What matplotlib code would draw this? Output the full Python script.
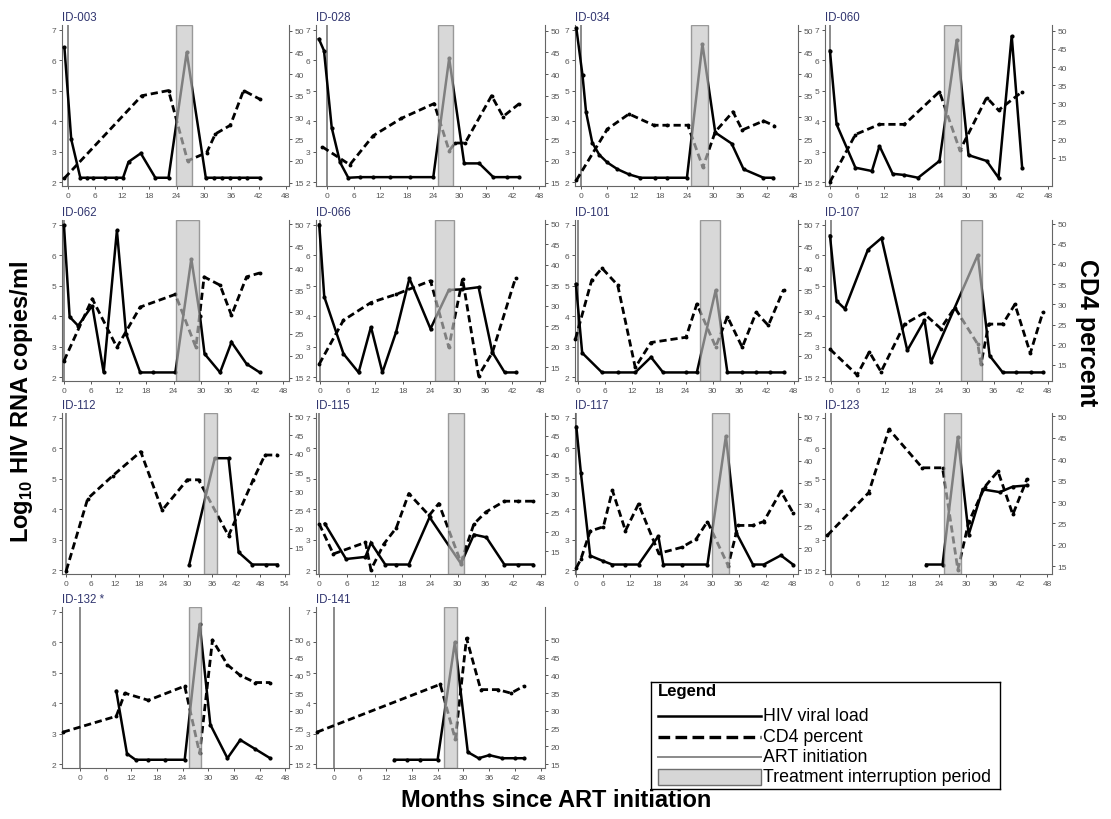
import matplotlib
matplotlib.use("Agg")
import matplotlib.pyplot as plt
from matplotlib.patches import Rectangle

plt.rcParams["font.family"] = ["Liberation Sans", "DejaVu Sans"]

# ---------------- patient series (months since ART, log10 VL, CD4 %) ----------------
id003_vl_t = [-0.7, 0.8, 2.8, 4.2, 5.6, 8.3, 10.7, 12.2, 13.4, 16.1, 19.3, 22.2, 26.2, 30.4, 32.1, 33.9, 35.8, 37.6, 39.4, 42.3]
id003_vl = [6.42, 3.41, 2.15, 2.15, 2.15, 2.15, 2.15, 2.15, 2.67, 2.95, 2.15, 2.15, 6.26, 2.15, 2.15, 2.15, 2.15, 2.15, 2.15, 2.15]
id003_cd4_t = [-0.7, 16.3, 22.2, 26.4, 30.6, 32.5, 35.8, 38.7, 42.3]
id003_cd4 = [16.0, 35.0, 36.2, 20.0, 21.9, 26.2, 28.2, 36.2, 34.2]
id003_ti = (23.9, 27.3)

id028_vl_t = [-1.9, -0.75, 1.0, 2.9, 4.75, 7.4, 10.4, 14.2, 18.7, 24.0, 27.6, 31.0, 34.4, 37.6, 40.6, 43.5]
id028_vl = [6.69, 6.31, 3.79, 2.65, 2.15, 2.17, 2.17, 2.17, 2.17, 2.17, 6.06, 2.62, 2.62, 2.17, 2.17, 2.17]
id028_cd4_t = [-1.1, 5.1, 10.4, 16.8, 24.2, 27.6, 28.9, 31.2, 37.2, 39.8, 43.5]
id028_cd4 = [23.2, 19.1, 25.8, 29.8, 33.2, 22.3, 24.1, 24.1, 35.0, 30.2, 33.2]
id028_ti = (25.1, 28.5)

id034_vl_t = [-1.0, 0.4, 1.2, 2.6, 4.2, 6.0, 8.3, 10.9, 13.5, 16.7, 19.5, 24.0, 27.5, 30.4, 34.1, 36.8, 41.3, 43.5]
id034_vl = [7.05, 5.5, 4.3, 3.3, 2.9, 2.65, 2.43, 2.26, 2.15, 2.15, 2.15, 2.15, 6.53, 3.63, 3.27, 2.43, 2.15, 2.15]
id034_cd4_t = [-1.0, 6.0, 10.9, 16.5, 19.5, 24.2, 27.6, 30.4, 34.4, 36.5, 41.3, 43.7]
id034_cd4 = [15.5, 27.3, 30.8, 28.2, 28.2, 28.2, 18.5, 26.7, 31.3, 27.1, 29.2, 28.1]
id034_ti = (25.0, 28.7)

id060_vl_t = [0, 1.46, 5.6, 9.24, 10.9, 13.8, 16.4, 19.4, 24.1, 27.9, 30.5, 34.5, 37.1, 40.0, 42.3]
id060_vl = [6.31, 3.9, 2.48, 2.37, 3.19, 2.28, 2.24, 2.15, 2.70, 6.67, 2.89, 2.70, 2.15, 6.80, 2.48]
id060_cd4_t = [0, 5.6, 10.9, 16.4, 24.1, 28.6, 34.5, 37.1, 42.3]
id060_cd4 = [8.3, 21.4, 24.2, 24.2, 33.2, 17.0, 31.6, 28.1, 33.2]
id060_ti = (25.1, 28.9)

id062_vl_t = [0, 1.24, 3.1, 6.2, 8.7, 11.6, 13.6, 16.7, 19.6, 24.4, 27.9, 29.8, 30.8, 34.2, 36.7, 40.0, 42.9]
id062_vl = [6.98, 3.98, 3.69, 4.35, 2.16, 6.81, 3.43, 2.16, 2.16, 2.16, 5.88, 4.0, 2.77, 2.16, 3.15, 2.44, 2.16]
id062_cd4_t = [0, 6.2, 11.6, 16.7, 24.4, 28.9, 30.7, 34.2, 36.7, 40.0, 42.9]
id062_cd4 = [18.8, 33.0, 21.9, 31.1, 34.0, 21.9, 38.0, 36.1, 29.2, 38.0, 38.9]
id062_ti = (24.6, 29.5)

id066_vl_t = [-0.2, 0.9, 5.1, 8.4, 11.1, 13.6, 16.6, 19.5, 24.1, 28.1, 31.0, 34.6, 37.6, 40.3, 42.7]
id066_vl = [7.0, 4.64, 2.77, 2.16, 3.65, 2.16, 3.49, 5.24, 3.59, 4.86, 4.88, 4.95, 2.82, 2.16, 2.16]
id066_cd4_t = [-0.2, 5.1, 11.1, 16.6, 24.1, 28.1, 31.1, 34.6, 37.6, 42.7]
id066_cd4 = [15.8, 26.5, 30.8, 32.8, 36.1, 19.9, 36.6, 13.0, 18.6, 36.9]
id066_ti = (25.0, 29.3)

id101_vl_t = [-0.4, 1.0, 5.4, 8.9, 12.8, 16.3, 19.0, 24.1, 26.5, 30.7, 33.3, 36.6, 39.7, 42.8, 45.8]
id101_vl = [5.05, 2.8, 2.16, 2.16, 2.16, 2.66, 2.16, 2.16, 2.16, 4.86, 2.16, 2.16, 2.16, 2.16, 2.16]
id101_cd4_t = [-0.5, 3.1, 5.4, 8.9, 12.8, 16.3, 24.1, 26.5, 30.7, 33.3, 36.6, 39.7, 42.4, 45.8]
id101_cd4 = [23.8, 37.2, 40.0, 36.1, 17.3, 23.0, 24.2, 31.8, 22.0, 28.9, 21.9, 29.9, 26.9, 35.1]
id101_ti = (27.3, 31.7)

id107_vl_t = [-0.2, 1.26, 3.1, 8.2, 11.2, 16.9, 20.7, 22.1, 32.5, 35.1, 38.0, 40.9, 44.3, 47.0]
id107_vl = [6.64, 4.5, 4.24, 6.18, 6.56, 2.88, 3.87, 2.49, 6.01, 2.71, 2.16, 2.16, 2.16, 2.16]
id107_cd4_t = [-0.2, 5.8, 8.5, 11.1, 16.3, 20.5, 24.3, 27.4, 32.5, 33.2, 34.9, 38.0, 40.7, 44.1, 46.9]
id107_cd4 = [18.9, 12.5, 18.2, 13.3, 25.1, 27.8, 24.0, 29.2, 20.1, 15.2, 25.1, 25.1, 30.0, 17.9, 28.1]
id107_ti = (28.7, 33.4)

id112_vl_t = [30.4, 36.7, 40.1, 42.6, 46.0, 49.3, 52.2]
id112_vl = [2.19, 5.67, 5.67, 2.59, 2.19, 2.19, 2.19]
id112_cd4_t = [0, 5.3, 11.5, 18.4, 23.7, 29.9, 32.7, 40.1, 46.2, 49.1, 52.2]
id112_cd4 = [8.9, 28.1, 34.2, 40.6, 25.0, 33.1, 33.1, 18.2, 33.1, 39.7, 39.7]
id112_ti = (34.0, 37.2)

id115_vl_t = [1.2, 5.8, 10.0, 11.2, 14.3, 16.7, 19.4, 23.9, 30.7, 33.5, 36.2, 40.1, 43.1, 46.3]
id115_vl = [3.53, 2.37, 2.44, 2.90, 2.19, 2.19, 2.19, 3.74, 2.22, 3.17, 3.08, 2.19, 2.19, 2.19]
id115_cd4_t = [0, 3.05, 10.0, 11.2, 14.0, 16.7, 19.4, 23.8, 25.9, 30.7, 33.5, 36.1, 40.1, 43.1, 46.3]
id115_cd4 = [22.1, 14.3, 17.3, 10.2, 16.9, 21.1, 30.0, 24.3, 27.4, 12.1, 22.1, 25.2, 28.0, 28.0, 28.0]
id115_ti = (27.8, 31.4)

id117_vl_t = [0, 1.0, 3.07, 6.0, 7.97, 10.9, 13.8, 18.2, 19.3, 23.4, 29.1, 33.2, 35.5, 39.2, 41.6, 45.4, 48.1]
id117_vl = [6.7, 5.2, 2.48, 2.3, 2.19, 2.19, 2.19, 3.12, 2.19, 2.19, 2.19, 6.40, 3.23, 2.19, 2.19, 2.49, 2.19]
id117_cd4_t = [0, 1.0, 3.07, 6.0, 8.0, 10.9, 13.8, 18.3, 23.4, 26.6, 29.1, 33.7, 35.9, 39.2, 41.6, 45.4, 48.1]
id117_cd4 = [15.5, 17.5, 23.9, 24.9, 33.2, 24.0, 30.1, 18.8, 20.2, 22.1, 26.1, 16.0, 25.2, 25.2, 26.1, 33.0, 28.1]
id117_ti = (30.0, 33.9)

id123_vl_t = [21.2, 24.8, 28.2, 30.6, 33.7, 37.5, 40.4, 43.6]
id123_vl = [2.19, 2.19, 6.38, 3.17, 4.65, 4.56, 4.74, 4.78]
id123_cd4_t = [-0.8, 8.4, 12.9, 20.3, 24.8, 28.2, 30.6, 34.2, 37.1, 40.4, 43.6]
id123_cd4 = [22.2, 32.2, 47.0, 38.0, 38.0, 14.2, 25.3, 33.6, 37.2, 27.1, 35.5]
id123_ti = (25.2, 28.8)

id132_vl_t = [8.5, 11.0, 13.0, 16.0, 20.0, 24.5, 28.0, 30.5, 34.5, 37.5, 41.0, 44.5]
id132_vl = [4.4, 2.35, 2.15, 2.15, 2.15, 2.15, 6.6, 3.3, 2.2, 2.8, 2.5, 2.2]
id132_cd4_t = [-4.0, 8.5, 10.5, 16.0, 24.5, 28.0, 31.0, 34.5, 37.5, 41.0, 44.5]
id132_cd4 = [24.0, 28.5, 35.0, 33.0, 37.0, 18.0, 50.0, 43.0, 40.0, 38.0, 38.0]
id132_ti = (25.5, 28.3)

id141_vl_t = [14.0, 17.0, 20.0, 24.0, 28.0, 31.0, 33.5, 36.0, 39.0, 42.0, 44.0]
id141_vl = [2.15, 2.15, 2.15, 2.15, 6.0, 2.4, 2.2, 2.3, 2.2, 2.2, 2.2]
id141_cd4_t = [-4.0, 24.6, 28.1, 30.7, 34.0, 38.0, 41.0, 44.0]
id141_cd4 = [24.0, 37.5, 22.0, 50.5, 36.0, 36.0, 35.0, 37.0]
id141_ti = (25.5, 28.5)

panel_ids = ["ID-003", "ID-028", "ID-034", "ID-060",
             "ID-062", "ID-066", "ID-101", "ID-107",
             "ID-112", "ID-115", "ID-117", "ID-123",
             "ID-132 *", "ID-141"]
month_ticks = [0, 6, 12, 18, 24, 30, 36, 42, 48]
month_ticks_long = [0, 6, 12, 18, 24, 30, 36, 42, 48, 54]
vl_ticks = [2, 3, 4, 5, 6, 7]
cd4_ticks = [15, 20, 25, 30, 35, 40, 45, 50]
legend_labels = ["HIV viral load", "CD4 percent", "ART initiation", "Treatment interruption period"]

# ---------------- layout (pixels of a 1111 x 820 canvas) ----------------
W, H = 1111, 820
col_px = [(62, 289), (316, 545), (575, 798), (825, 1052)]
row_px = [(26, 187), (221, 382), (414, 575), (608, 769)]

panels = [
    (id003_vl_t, id003_vl, id003_cd4_t, id003_cd4, id003_ti, (-1.23, 48.7), month_ticks, (14.2, 51.3)),
    (id028_vl_t, id028_vl, id028_cd4_t, id028_cd4, id028_ti, (-2.56, 49.3), month_ticks, (14.2, 51.3)),
    (id034_vl_t, id034_vl, id034_cd4_t, id034_cd4, id034_ti, (-1.3, 49.1), month_ticks, (14.2, 51.3)),
    (id060_vl_t, id060_vl, id060_cd4_t, id060_cd4, id060_ti, (-1.09, 48.87), month_ticks, (7.2, 51.6)),
    (id062_vl_t, id062_vl, id062_cd4_t, id062_cd4, id062_ti, (-0.43, 49.3), month_ticks, (14.2, 51.0)),
    (id066_vl_t, id066_vl, id066_cd4_t, id066_cd4, id066_ti, (-0.9, 49.1), month_ticks, (11.7, 50.9)),
    (id101_vl_t, id101_vl, id101_cd4_t, id101_cd4, id101_ti, (-0.6, 49.0), month_ticks, (14.2, 51.0)),
    (id107_vl_t, id107_vl, id107_cd4_t, id107_cd4, id107_ti, (-1.3, 48.9), month_ticks, (11.0, 50.9)),
    (id112_vl_t, id112_vl, id112_cd4_t, id112_cd4, id112_ti, (-1.06, 55.05), month_ticks_long, (8.0, 50.9)),
    (id115_vl_t, id115_vl, id115_cd4_t, id115_cd4, id115_ti, (-0.7, 48.9), month_ticks, (9.1, 50.9)),
    (id117_vl_t, id117_vl, id117_cd4_t, id117_cd4, id117_ti, (-0.3, 49.2), month_ticks, (14.1, 50.9)),
    (id123_vl_t, id123_vl, id123_cd4_t, id123_cd4, id123_ti, (-1.3, 49.1), month_ticks, (13.2, 50.8)),
    (id132_vl_t, id132_vl, id132_cd4_t, id132_cd4, id132_ti, (-4.2, 48.9), month_ticks, (13.9, 59.3)),
    (id141_vl_t, id141_vl, id141_cd4_t, id141_cd4, id141_ti, (-4.2, 48.9), month_ticks, (13.9, 59.3)),
]

TICK_COL = "#555555"
SPINE_COL = "#666666"
TITLE_COL = "#30356f"

fig = plt.figure(figsize=(W / 100, H / 100), dpi=100)


def px_rect(col, row):
    l, r = col_px[col]
    t, b = row_px[row]
    return [l / W, 1 - b / H, (r - l) / W, (b - t) / H]


for i, (vt, vl, ct, cd, ti, xlim, xt, clim) in enumerate(panels):
    row, col = divmod(i, 4)
    ax = fig.add_axes(px_rect(col, row))
    ax.set_xlim(*xlim)
    ax.set_ylim(1.88, 7.15)
    ax2 = ax.twinx()
    ax2.set_ylim(*clim)

    # ART initiation
    ax.axvline(0, color="#8a8a8a", lw=1.4, zorder=1)
    # viral load
    ax.plot(vt, vl, color="black", lw=1.8, marker="o", ms=2.0,
            solid_joinstyle="miter", zorder=3, clip_on=False)
    # CD4 percent
    ax2.plot(ct, cd, color="black", lw=2.0, ls=(0, (2.6, 1.4)), marker="o", ms=1.8,
             zorder=3, clip_on=False)
    # treatment interruption period drawn over both lines
    ax2.axvspan(ti[0], ti[1], facecolor="#c4c4c4", alpha=0.65,
                edgecolor="#6e6e6e", lw=1.0, zorder=5)

    for a in (ax, ax2):
        a.spines["top"].set_visible(False)
        for s in a.spines.values():
            s.set_color(SPINE_COL)
            s.set_linewidth(0.8)
    ax.spines["right"].set_visible(False)
    ax2.spines["left"].set_visible(False)
    ax2.spines["bottom"].set_visible(False)

    ax.set_xticks(xt)
    ax.set_yticks(vl_ticks)
    ax2.set_yticks(cd4_ticks)
    ax.tick_params(axis="both", length=2.5, width=0.7, colors=TICK_COL,
                   labelsize=6, pad=1.5)
    ax2.tick_params(axis="y", length=2.5, width=0.7, colors=TICK_COL,
                    labelsize=6, pad=1.5)

    ax.text(0.0, 1.012, panel_ids[i], transform=ax.transAxes, ha="left",
            va="bottom", fontsize=8.3, color=TITLE_COL)

# ---------------- legend ----------------
lax = fig.add_axes([651 / W, 1 - 790 / H, 349 / W, 107 / H])
lax.set_xlim(0, 349)
lax.set_ylim(107, 0)
lax.set_xticks([])
lax.set_yticks([])
for s in lax.spines.values():
    s.set_color("black")
    s.set_linewidth(1.0)
lax.text(7, 9, "Legend", fontsize=12, fontweight="bold", va="center", ha="left")
lax.plot([7, 110], [34, 34], color="black", lw=1.8)
lax.plot([7, 110], [55, 55], color="black", lw=2.4, ls=(0, (3.5, 1.6)))
lax.plot([7, 110], [75, 75], color="#8a8a8a", lw=1.4)
lax.add_patch(Rectangle((7, 87), 103, 16, facecolor="#d6d6d6", edgecolor="#6e6e6e", lw=1.0))
for yy, lab in zip([34, 55, 75, 95], legend_labels):
    lax.text(112, yy, lab, fontsize=12.8, va="center", ha="left")

# ---------------- outer labels ----------------
fig.text(22 / W, 1 - 402 / H, r"Log$_{\mathregular{10}}$ HIV RNA copies/ml", rotation=90,
         fontsize=17, fontweight="bold", ha="center", va="center")
fig.text(1087 / W, 1 - 333 / H, "CD4 percent", rotation=270,
         fontsize=18, fontweight="bold", ha="center", va="center")
fig.text(556 / W, 1 - 801 / H, "Months since ART initiation",
         fontsize=17, fontweight="bold", ha="center", va="center")

fig.savefig("out.png", dpi=100)
